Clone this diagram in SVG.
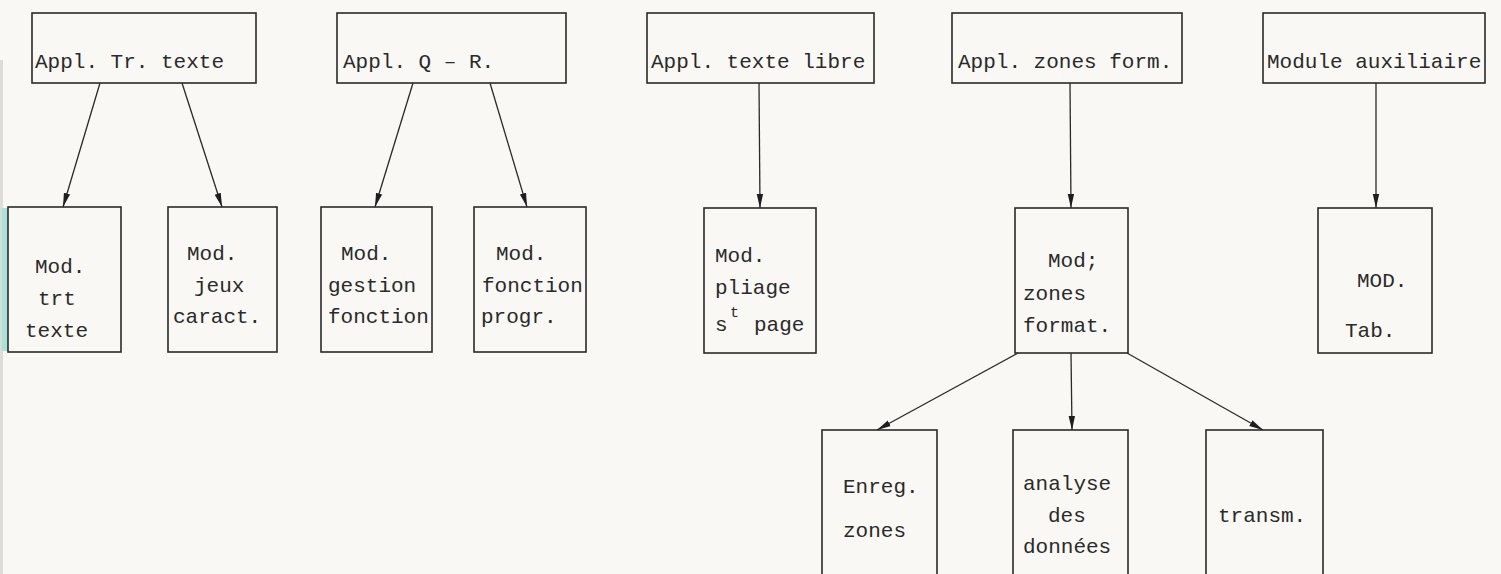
<svg xmlns="http://www.w3.org/2000/svg" width="1501" height="574" viewBox="0 0 1501 574">
<style>
.box{fill:none;stroke:#2a2a2a;stroke-width:1.6}
.t{font-family:"Liberation Mono","DejaVu Sans Mono",monospace;font-size:21px;fill:#2a2a2a}
.sm{font-size:15px}
.c{stroke:#2a2a2a;stroke-width:1.3;fill:none;marker-end:url(#ah)}
</style>
<defs>
<marker id="ah" markerWidth="15" markerHeight="9" refX="14" refY="4.5" orient="auto" markerUnits="userSpaceOnUse">
<path d="M0,1.3 L14,4.5 L0,7.7 Z" fill="#1e1e1e"/>
</marker>
</defs>
<rect x="0" y="0" width="1501" height="574" fill="#f9f8f4"/>
<rect x="0" y="60" width="3" height="514" fill="#dcdcd8"/>
<rect x="2" y="208" width="6" height="143" fill="#a9e2d8"/>

<g id="connectors">
<line class="c" x1="100" y1="83" x2="63" y2="207"/>
<line class="c" x1="182" y1="83" x2="222" y2="207"/>
<line class="c" x1="413" y1="83" x2="375" y2="207"/>
<line class="c" x1="490" y1="83" x2="527" y2="207"/>
<line class="c" x1="759" y1="83" x2="760" y2="208"/>
<line class="c" x1="1070" y1="83" x2="1071" y2="208"/>
<line class="c" x1="1376" y1="83" x2="1376" y2="208"/>
<line class="c" x1="1018" y1="353" x2="877" y2="430"/>
<line class="c" x1="1071" y1="353" x2="1072" y2="430"/>
<line class="c" x1="1127" y1="353" x2="1263" y2="430"/>
</g>

<g id="appl-tr-texte"><rect class="box" x="32" y="13" width="224" height="70"/><text class="t" x="35" y="68">Appl. Tr. texte</text></g>
<g id="appl-q-r"><rect class="box" x="337" y="13" width="229" height="70"/><text class="t" x="343" y="68">Appl. Q – R.</text></g>
<g id="appl-texte-libre"><rect class="box" x="647" y="13" width="227" height="70"/><text class="t" x="651" y="68">Appl. texte libre</text></g>
<g id="appl-zones-form"><rect class="box" x="952" y="13" width="230" height="70"/><text class="t" x="958" y="68">Appl. zones form.</text></g>
<g id="module-auxiliaire"><rect class="box" x="1263" y="13" width="222" height="70"/><text class="t" x="1267" y="68">Module auxiliaire</text></g>

<g id="mod-trt-texte"><rect class="box" x="8" y="207" width="113" height="145"/>
<text class="t" x="35" y="273">Mod.</text><text class="t" x="38" y="305">trt</text><text class="t" x="25" y="337">texte</text></g>
<g id="mod-jeux-caract"><rect class="box" x="168" y="207" width="109" height="145"/>
<text class="t" x="187" y="260">Mod.</text><text class="t" x="194" y="292">jeux</text><text class="t" x="173" y="323">caract.</text></g>
<g id="mod-gestion-fonction"><rect class="box" x="321" y="207" width="111" height="145"/>
<text class="t" x="341" y="260">Mod.</text><text class="t" x="328" y="292">gestion</text><text class="t" x="328" y="323">fonction</text></g>
<g id="mod-fonction-progr"><rect class="box" x="474" y="207" width="112" height="145"/>
<text class="t" x="496" y="260">Mod.</text><text class="t" x="482" y="292">fonction</text><text class="t" x="481" y="323">progr.</text></g>
<g id="mod-pliage"><rect class="box" x="704" y="208" width="112" height="145"/>
<text class="t" x="715" y="262">Mod.</text><text class="t" x="715" y="294">pliage</text><text class="t sm" x="730" y="317">t</text><text class="t" x="715" y="331">s</text><text class="t" x="754" y="331">page</text></g>
<g id="mod-zones-format"><rect class="box" x="1015" y="208" width="113" height="145"/>
<text class="t" x="1048" y="267">Mod;</text><text class="t" x="1023" y="300">zones</text><text class="t" x="1023" y="332">format.</text></g>
<g id="mod-tab"><rect class="box" x="1318" y="208" width="114" height="145"/>
<text class="t" x="1357" y="287">MOD.</text><text class="t" x="1345" y="337">Tab.</text></g>

<g id="enreg-zones"><rect class="box" x="822" y="430" width="115" height="170"/>
<text class="t" x="843" y="493">Enreg.</text><text class="t" x="843" y="537">zones</text></g>
<g id="analyse-donnees"><rect class="box" x="1013" y="430" width="115" height="170"/>
<text class="t" x="1023" y="490">analyse</text><text class="t" x="1048" y="522">des</text><text class="t" x="1023" y="553">données</text></g>
<g id="transm"><rect class="box" x="1206" y="430" width="117" height="170"/>
<text class="t" x="1218" y="522">transm.</text></g>
</svg>
